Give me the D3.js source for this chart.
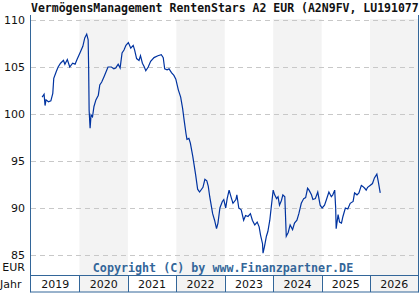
<!DOCTYPE html>
<html>
<head>
<meta charset="utf-8">
<script src="https://cdn.jsdelivr.net/npm/d3@7"></script>
<style>
  body { margin: 0; background: #fff; overflow: hidden; }
  svg { display: block; }
</style>
</head>
<body>
<svg id="chart" width="420" height="300"></svg>
<script>
// Fund price, EUR, decimal year -> value
const dates = [
  2019.23, 2019.27, 2019.29, 2019.31, 2019.36, 2019.41, 2019.45, 2019.47, 2019.52, 2019.56,
  2019.61, 2019.67, 2019.70, 2019.75, 2019.80, 2019.86, 2019.91, 2019.95, 2020.01, 2020.07,
  2020.11, 2020.15, 2020.18, 2020.19, 2020.20, 2020.22, 2020.24, 2020.27, 2020.30, 2020.34,
  2020.39, 2020.42, 2020.46, 2020.51, 2020.55, 2020.59, 2020.66, 2020.71, 2020.75, 2020.80,
  2020.84, 2020.88, 2020.92, 2020.96, 2021.01, 2021.06, 2021.11, 2021.14, 2021.18, 2021.23,
  2021.26, 2021.30, 2021.34, 2021.37, 2021.42, 2021.47, 2021.54, 2021.62, 2021.69, 2021.73,
  2021.76, 2021.81, 2021.85, 2021.90, 2021.95, 2021.99, 2022.04, 2022.09, 2022.13, 2022.16,
  2022.20, 2022.22, 2022.26, 2022.29, 2022.34, 2022.40, 2022.44, 2022.48, 2022.55, 2022.59,
  2022.63, 2022.66, 2022.69, 2022.75, 2022.79, 2022.83, 2022.86, 2022.90, 2022.95, 2022.98,
  2023.02, 2023.05, 2023.09, 2023.14, 2023.17, 2023.23, 2023.25, 2023.29, 2023.34, 2023.39,
  2023.43, 2023.48, 2023.53, 2023.57, 2023.62, 2023.67, 2023.71, 2023.74, 2023.78, 2023.79,
  2023.82, 2023.86, 2023.89, 2023.93, 2023.96, 2024.00, 2024.03, 2024.07, 2024.10, 2024.13,
  2024.17, 2024.20, 2024.24, 2024.27, 2024.31, 2024.35, 2024.40, 2024.44, 2024.49, 2024.53,
  2024.58, 2024.63, 2024.67, 2024.71, 2024.74, 2024.79, 2024.82, 2024.87, 2024.92, 2024.97,
  2025.01, 2025.06, 2025.10, 2025.15, 2025.20, 2025.23, 2025.27, 2025.29, 2025.30, 2025.34,
  2025.37, 2025.41, 2025.44, 2025.49, 2025.54, 2025.59, 2025.65, 2025.68, 2025.73, 2025.77,
  2025.82, 2025.85, 2025.89, 2025.92, 2025.95, 2026.00, 2026.05, 2026.09, 2026.14, 2026.17,
  2026.20, 2026.21
];
const prices = [
  101.8, 102.1, 100.9, 101.5, 101.3, 101.4, 102.2, 103.8, 104.5, 105.0,
  105.4, 105.7, 105.3, 105.8, 105.0, 105.4, 105.3, 105.8, 106.5, 107.2,
  108.1, 108.5, 107.9, 104.9, 100.4, 98.5, 99.9, 99.7, 100.8, 101.5,
  102.0, 103.1, 103.4, 104.0, 104.5, 105.0, 105.0, 104.8, 104.9, 105.3,
  104.9, 106.5, 106.8, 107.3, 107.6, 107.0, 107.3, 106.8, 105.9, 105.7,
  106.2, 105.4, 105.0, 104.6, 105.0, 105.6, 106.0, 106.2, 106.3, 106.0,
  104.8, 104.7, 104.8, 104.4, 104.1, 103.7, 102.6, 101.8, 100.6, 99.4,
  97.9, 97.3, 97.4, 96.9, 95.5, 93.5, 92.0, 91.7, 92.2, 93.05,
  92.9, 92.3, 91.2, 89.4, 88.7, 87.8, 88.4, 90.0, 90.7, 90.9,
  90.0, 91.0, 91.9, 91.0, 90.5, 90.9, 91.4, 90.0, 89.8, 88.7,
  89.2, 89.1, 89.4, 88.7, 88.2, 88.5, 88.0, 87.1, 86.2, 85.2,
  85.9, 87.0, 87.5, 88.7, 90.1, 91.9, 91.4, 91.0, 91.2, 90.3,
  90.8, 91.4, 91.2, 87.0, 87.4, 88.2, 87.7, 88.4, 88.7, 89.4,
  90.5, 91.0, 91.1, 92.1, 91.9, 91.4, 90.9, 91.0, 91.7, 90.3,
  90.0, 90.3, 90.9, 91.7, 91.2, 91.4, 91.9, 90.0, 87.8, 89.3,
  88.5, 88.4, 89.1, 90.0, 89.9, 90.5, 90.7, 91.6, 91.4, 91.6,
  92.4, 92.3, 92.1, 91.9, 92.2, 92.4, 92.6, 93.2, 93.6, 92.8,
  91.9, 91.6
];
const years = [2019, 2020, 2021, 2022, 2023, 2024, 2025, 2026];
const yTicks = [85, 90, 95, 100, 105, 110];

const title = "VermögensManagement RentenStars A2 EUR (A2N9FV, LU191077";
const copyright = "Copyright (C) by www.Finanzpartner.DE";

const svg = d3.select('#chart');
const plotLeft = 31, plotRight = 418.5, plotTop = 19, plotBottom = 275.5, rowBottom = 292;

const x = d3.scaleLinear().domain([2019, 2027]).range([plotLeft, plotRight]);
const y = d3.scaleLinear().domain([85, 110]).range([255, 20]);

// alternate year shading
svg.selectAll('rect.band')
  .data(years.filter((yr, i) => i % 2 === 1))
  .enter().append('rect')
  .attr('class', 'band')
  .attr('x', d => x(d))
  .attr('y', plotTop)
  .attr('width', d => x(d + 1) - x(d))
  .attr('height', rowBottom - plotTop)
  .attr('fill', '#f3f3f3');

// dashed grid
svg.selectAll('line.grid')
  .data(yTicks)
  .enter().append('line')
  .attr('class', 'grid')
  .attr('x1', plotLeft).attr('x2', plotRight)
  .attr('y1', d => Math.round(y(d)) + 0.5)
  .attr('y2', d => Math.round(y(d)) + 0.5)
  .attr('stroke', '#c8c8c8')
  .attr('stroke-dasharray', '5,4');

// y labels
svg.selectAll('text.ytick')
  .data(yTicks)
  .enter().append('text')
  .attr('class', 'ytick')
  .attr('x', 25)
  .attr('y', d => y(d) + 4)
  .attr('text-anchor', 'end')
  .style('font', '11px "DejaVu Sans", sans-serif')
  .attr('fill', '#111')
  .text(d => d);

// price line
const line = d3.line()
  .x((d, i) => x(dates[i]))
  .y(d => y(d));

svg.append('path')
  .datum(prices)
  .attr('d', line)
  .attr('fill', 'none')
  .attr('stroke', '#0033a0')
  .attr('stroke-width', 1.2);

// frame
const frame = '#336699';
svg.append('line').attr('x1', plotLeft - 0.5).attr('x2', plotLeft - 0.5).attr('y1', 15).attr('y2', rowBottom + 0.5)
  .attr('stroke', frame);
svg.append('line').attr('x1', plotRight).attr('x2', plotRight).attr('y1', 15).attr('y2', rowBottom + 0.5)
  .attr('stroke', frame);
svg.append('line').attr('x1', plotLeft - 0.5).attr('x2', plotRight).attr('y1', plotBottom).attr('y2', plotBottom)
  .attr('stroke', frame);
svg.append('line').attr('x1', plotLeft - 0.5).attr('x2', plotRight).attr('y1', rowBottom).attr('y2', rowBottom)
  .attr('stroke', frame);

// year cells
svg.selectAll('line.ysep')
  .data(years.slice(1))
  .enter().append('line')
  .attr('class', 'ysep')
  .attr('x1', d => Math.round(x(d)) + 0.5)
  .attr('x2', d => Math.round(x(d)) + 0.5)
  .attr('y1', plotBottom).attr('y2', rowBottom)
  .attr('stroke', frame);

svg.selectAll('text.year')
  .data(years)
  .enter().append('text')
  .attr('class', 'year')
  .attr('x', d => x(d + 0.5))
  .attr('y', 288)
  .attr('text-anchor', 'middle')
  .style('font', '11px "DejaVu Sans", sans-serif')
  .attr('fill', '#111')
  .text(d => d);

svg.append('text')
  .attr('x', 25).attr('y', 271)
  .attr('text-anchor', 'end')
  .style('font', '11px "DejaVu Sans", sans-serif')
  .attr('fill', '#111')
  .text('EUR');

svg.append('text')
  .attr('x', 0).attr('y', 288)
  .style('font', '11px "DejaVu Sans", sans-serif')
  .attr('fill', '#111')
  .text('Jahr');

svg.append('text')
  .attr('x', 223).attr('y', 272)
  .attr('text-anchor', 'middle')
  .style('font', 'bold 11.7px "DejaVu Sans Mono", monospace')
  .attr('fill', '#336699')
  .text(copyright);

svg.append('text')
  .attr('x', 31).attr('y', 12)
  .style('font', 'bold 11.5px "DejaVu Sans Mono", monospace')
  .attr('fill', '#111')
  .text(title);
</script>
</body>
</html>
